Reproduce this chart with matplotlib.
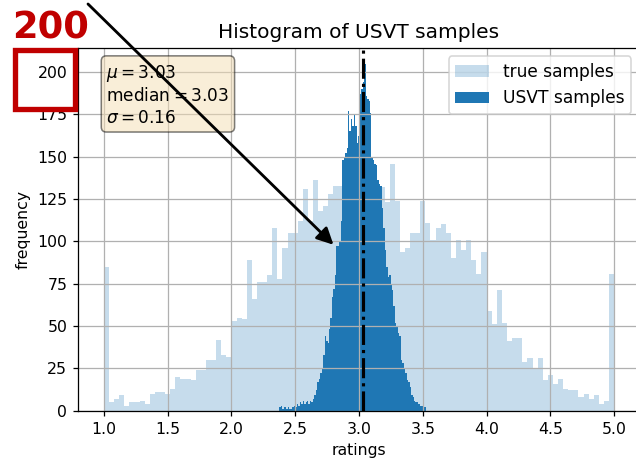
import numpy as np
import matplotlib
matplotlib.use("Agg")
import matplotlib.pyplot as plt
from matplotlib.patches import Rectangle

# ---- data ----
true_range = (1.0, 5.0)
true_counts = [85, 5, 7, 9, 3, 5, 5, 6, 4, 10,
               11, 11, 10, 13, 20, 19, 19, 18, 24, 24,
               30, 30, 42, 33, 32, 53, 55, 54, 89, 66,
               76, 76, 80, 108, 78, 96, 105, 105, 112, 131,
               112, 136, 118, 121, 128, 133, 133, 138, 140, 135,
               142, 137, 139, 134, 132, 123, 146, 124, 94, 96,
               105, 105, 124, 111, 101, 108, 110, 105, 90, 101,
               95, 101, 89, 81, 94, 59, 51, 71, 52, 41,
               43, 43, 29, 31, 25, 31, 18, 21, 16, 19,
               13, 12, 12, 8, 10, 7, 9, 4, 6, 81]

usvt_range = (2.374, 3.523)
usvt_counts = [2, 3, 1, 2, 2, 1, 2, 1, 1, 2,
               3, 2, 4, 3, 5, 4, 6, 4, 5, 6,
               4, 6, 5, 7, 9, 12, 17, 19, 22, 25,
               33, 44, 41, 40, 48, 55, 67, 72, 80, 97,
               97, 100, 112, 148, 150, 152, 155, 177, 165, 172,
               168, 175, 168, 158, 162, 187, 190, 194, 205, 186,
               184, 183, 176, 150, 148, 146, 145, 136, 134, 133,
               120, 108, 95, 85, 79, 80, 74, 71, 62, 52,
               50, 46, 44, 30, 28, 25, 22, 18, 17, 14,
               9, 8, 6, 5, 5, 4, 3, 3, 1, 2]

mu, median, sigma = 3.03, 3.03, 0.16
x_ticks = [1.0, 1.5, 2.0, 2.5, 3.0, 3.5, 4.0, 4.5, 5.0]
y_ticks = [0, 25, 50, 75, 100, 125, 150, 175, 200]

# ---- figure ----
DPI = 113
fig = plt.figure(figsize=(636 / DPI, 465 / DPI), dpi=DPI)
W, H = 636, 465
ax = fig.add_axes([78.3 / W, (H - 410.7) / H, 561.4 / W, 363.0 / H])

t_edges = np.linspace(true_range[0], true_range[1], len(true_counts) + 1)
u_edges = np.linspace(usvt_range[0], usvt_range[1], len(usvt_counts) + 1)

ax.hist(t_edges[:-1], bins=t_edges, weights=true_counts, color='C0', alpha=0.25,
        label='true samples')
ax.hist(u_edges[:-1], bins=u_edges, weights=usvt_counts, color='C0',
        label='USVT samples')

ax.axvline(mu, color='k', linestyle='-.', linewidth=2)

ax.set_xlim(0.8, 5.2)
ax.set_ylim(0, 214.4)
ax.set_xticks(x_ticks)
ax.set_yticks(y_ticks)
ax.grid(True)
ax.set_title('Histogram of USVT samples', fontsize=12.8)
ax.set_xlabel('ratings')
ax.set_ylabel('frequency')
ax.legend(loc='upper right', fontsize=10.8)

textstr = '\n'.join((r'$\mu=%.2f$' % mu,
                     r'$\mathrm{median}=%.2f$' % median,
                     r'$\sigma=%.2f$' % sigma))
ax.text(0.05, 0.958, textstr, transform=ax.transAxes, fontsize=10.8,
        verticalalignment='top', linespacing=1.25,
        bbox=dict(boxstyle='round', facecolor='wheat', alpha=0.5))

# ---- highlight annotations ----
red = '#c00000'
fig.text(12 / W, 1 - 38 / H, '200', color=red, fontsize=23.5, fontweight='bold',
         ha='left', va='baseline')
fig.patches.append(Rectangle((15.2 / W, 1 - 109.5 / H), 60 / W, 59.5 / H,
                             transform=fig.transFigure, fill=False,
                             edgecolor=red, linewidth=3.4))
ax.annotate('', xy=(2.80, 98), xycoords='data',
            xytext=(88 / W, 1 - 4 / H), textcoords='figure fraction',
            arrowprops=dict(arrowstyle='-|>', color='k', lw=1.8,
                            mutation_scale=22, shrinkA=0, shrinkB=0),
            annotation_clip=False)

fig.savefig('out.png', dpi=DPI)
